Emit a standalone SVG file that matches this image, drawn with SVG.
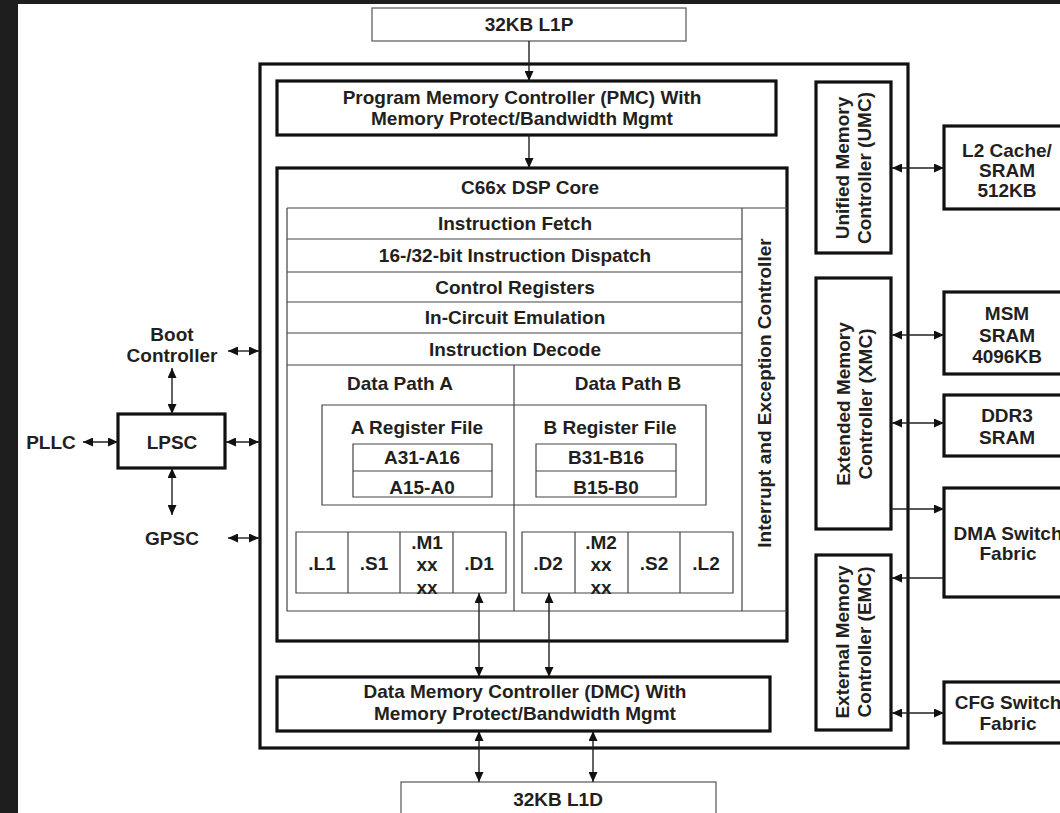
<svg xmlns="http://www.w3.org/2000/svg" width="1060" height="813" viewBox="0 0 1060 813">
<style>
text{font-family:"Liberation Sans",Arial,sans-serif;font-weight:bold;font-size:19px;fill:#231f20;text-anchor:middle}
.thick{fill:#fff;stroke:#111;stroke-width:3.2}
.thin{fill:none;stroke:#444;stroke-width:1.2}
.thinw{fill:#fff;stroke:#555;stroke-width:1.2}
.c{fill:none;stroke:#231f20;stroke-width:1.4}
</style>
<defs>
<marker id="ah" viewBox="0 0 10 9" refX="10" refY="4.5" markerWidth="10" markerHeight="9" markerUnits="userSpaceOnUse" orient="auto-start-reverse">
<path d="M0,0 L10,4.5 L0,9 z" fill="#111"/>
</marker>
</defs>
<rect x="0" y="0" width="1060" height="813" fill="#fff"/>
<rect x="0" y="0" width="18" height="813" fill="#1e1e1e"/>
<rect x="0" y="0" width="1060" height="4" fill="#1e1e1e"/>

<g id="outer"><rect class="thick" x="260" y="64" width="648" height="684"/></g>

<g id="l1p"><rect class="thinw" x="372" y="8" width="314" height="33"/><text x="529" y="31">32KB L1P</text></g>

<g id="pmc"><rect class="thick" x="277" y="81" width="499" height="54"/>
<text x="522" y="104">Program Memory Controller (PMC) With</text>
<text x="522" y="125">Memory Protect/Bandwidth Mgmt</text></g>

<g id="core"><rect class="thick" x="277" y="168" width="510" height="473"/>
<text x="530" y="194">C66x DSP Core</text></g>

<g id="pipeline">
<path class="thin" d="M287,208 H787 M287,208 V611 H787 M287,239 H742 M287,272 H742 M287,302 H742 M287,333 H742 M287,365 H742 M742,208 V611 M514,365 V611"/>
<text x="515" y="230">Instruction Fetch</text>
<text x="515" y="262">16-/32-bit Instruction Dispatch</text>
<text x="515" y="294">Control Registers</text>
<text x="515" y="324">In-Circuit Emulation</text>
<text x="515" y="356">Instruction Decode</text>
<text transform="translate(764,393) rotate(-90)" x="0" y="7">Interrupt and Exception Controller</text>
</g>

<g id="datapath">
<text x="400" y="390">Data Path A</text>
<text x="628" y="390">Data Path B</text>
<path class="thin" d="M322,405 H706 V505 H322 Z"/>
<text x="417" y="434">A Register File</text>
<text x="610" y="434">B Register File</text>
<path class="thin" d="M353,444 H492 V497 H353 Z M353,471 H492 M536,444 H676 V497 H536 Z M536,471 H676"/>
<text x="422" y="464">A31-A16</text>
<text x="422" y="494">A15-A0</text>
<text x="606" y="464">B31-B16</text>
<text x="606" y="494">B15-B0</text>
</g>

<g id="units">
<path class="thin" d="M296,532 H506 V593 H296 Z M348,532 V593 M400,532 V593 M453,532 V593 M522,532 H733 V593 H522 Z M575,532 V593 M628,532 V593 M680,532 V593"/>
<text x="322" y="570">.L1</text>
<text x="374" y="570">.S1</text>
<text x="427" y="549">.M1</text>
<text x="427" y="571">xx</text>
<text x="427" y="594">xx</text>
<text x="479" y="570">.D1</text>
<text x="548" y="570">.D2</text>
<text x="601" y="549">.M2</text>
<text x="601" y="571">xx</text>
<text x="601" y="594">xx</text>
<text x="654" y="570">.S2</text>
<text x="706" y="570">.L2</text>
</g>

<g id="dmc"><rect class="thick" x="277" y="677" width="493" height="54"/>
<text x="525" y="698">Data Memory Controller (DMC) With</text>
<text x="525" y="720">Memory Protect/Bandwidth Mgmt</text></g>

<g id="l1d"><rect class="thinw" x="401" y="782" width="315" height="40"/><text x="558" y="806">32KB L1D</text></g>

<g id="umc"><rect class="thick" x="816" y="82" width="75" height="171"/>
<text transform="translate(842,168) rotate(-90)" x="0" y="7">Unified Memory</text>
<text transform="translate(864,168) rotate(-90)" x="0" y="7">Controller (UMC)</text></g>

<g id="xmc"><rect class="thick" x="816" y="278" width="75" height="251"/>
<text transform="translate(843,404) rotate(-90)" x="0" y="7">Extended Memory</text>
<text transform="translate(865,404) rotate(-90)" x="0" y="7">Controller (XMC)</text></g>

<g id="emc"><rect class="thick" x="816" y="555" width="75" height="175"/>
<text transform="translate(842,642) rotate(-90)" x="0" y="7">External Memory</text>
<text transform="translate(864,642) rotate(-90)" x="0" y="7">Controller (EMC)</text></g>

<g id="l2"><rect class="thick" x="944" y="126" width="130" height="83"/>
<text x="1007" y="157">L2 Cache/</text><text x="1007" y="177">SRAM</text><text x="1007" y="197">512KB</text></g>

<g id="msm"><rect class="thick" x="944" y="292" width="130" height="82"/>
<text x="1007" y="320">MSM</text><text x="1007" y="342">SRAM</text><text x="1007" y="363">4096KB</text></g>

<g id="ddr3"><rect class="thick" x="944" y="395" width="130" height="61"/>
<text x="1007" y="422">DDR3</text><text x="1007" y="444">SRAM</text></g>

<g id="dma"><rect class="thick" x="944" y="488" width="130" height="109"/>
<text x="1008" y="540">DMA Switch</text><text x="1008" y="560">Fabric</text></g>

<g id="cfg"><rect class="thick" x="944" y="682" width="130" height="61"/>
<text x="1008" y="709">CFG Switch</text><text x="1008" y="730">Fabric</text></g>

<g id="boot"><text x="172" y="341">Boot</text><text x="172" y="362">Controller</text></g>
<g id="lpsc"><rect class="thick" x="118" y="414" width="107" height="54"/><text x="172" y="449">LPSC</text></g>
<g id="pllc"><text x="51" y="449">PLLC</text></g>
<g id="gpsc"><text x="172" y="545">GPSC</text></g>

<g id="connectors">
<path class="c" d="M529,41 V81" marker-end="url(#ah)"/>
<path class="c" d="M529,135 V168" marker-end="url(#ah)"/>
<path class="c" d="M479,593 V677" marker-start="url(#ah)" marker-end="url(#ah)"/>
<path class="c" d="M549,593 V677" marker-start="url(#ah)" marker-end="url(#ah)"/>
<path class="c" d="M479,731 V782" marker-start="url(#ah)" marker-end="url(#ah)"/>
<path class="c" d="M593,731 V782" marker-start="url(#ah)" marker-end="url(#ah)"/>
<path class="c" d="M892,168 H944" marker-start="url(#ah)" marker-end="url(#ah)"/>
<path class="c" d="M892,335 H944" marker-start="url(#ah)" marker-end="url(#ah)"/>
<path class="c" d="M892,423 H944" marker-start="url(#ah)" marker-end="url(#ah)"/>
<path class="c" d="M891,509 H944" marker-end="url(#ah)"/>
<path class="c" d="M944,578 H892" marker-end="url(#ah)"/>
<path class="c" d="M892,713 H944" marker-start="url(#ah)" marker-end="url(#ah)"/>
<path class="c" d="M228,351 H259" marker-start="url(#ah)" marker-end="url(#ah)"/>
<path class="c" d="M172,368 V414" marker-start="url(#ah)" marker-end="url(#ah)"/>
<path class="c" d="M83,442 H118" marker-start="url(#ah)" marker-end="url(#ah)"/>
<path class="c" d="M226,442 H259" marker-start="url(#ah)" marker-end="url(#ah)"/>
<path class="c" d="M172,468 V515" marker-start="url(#ah)" marker-end="url(#ah)"/>
<path class="c" d="M228,538 H259" marker-start="url(#ah)" marker-end="url(#ah)"/>
</g>
</svg>
